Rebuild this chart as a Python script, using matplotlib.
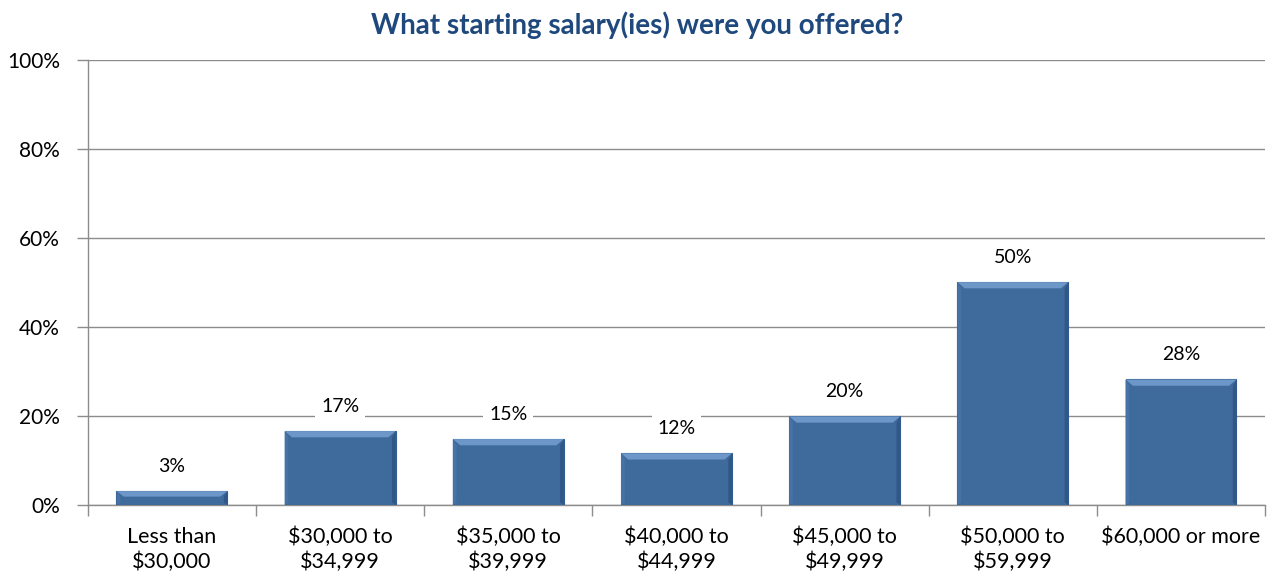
import matplotlib
matplotlib.use("Agg")
import matplotlib.pyplot as plt
from matplotlib.patches import Polygon

plt.rcParams["font.family"] = ["Lato", "DejaVu Sans"]
plt.rcParams["text.parse_math"] = False

title = "What starting salary(ies) were you offered?"
cats = ["Less than\n$30,000", "$30,000 to\n$34,999", "$35,000 to\n$39,999",
        "$40,000 to\n$44,999", "$45,000 to\n$49,999", "$50,000 to\n$59,999",
        "$60,000 or more"]
vals = [3.1, 16.6, 14.8, 11.6, 19.9, 50.1, 28.2]
yticks = [0, 20, 40, 60, 80, 100]

BAR = "#3E6A9C"
GRID = "#8C8C8C"

fig = plt.figure(figsize=(12.74, 5.79), dpi=100)
ax = fig.add_axes([0.069, 0.128, 0.924, 0.768])

x = list(range(len(cats)))
bars = ax.bar(x, vals, width=0.66, color=BAR, edgecolor="#335C8F", linewidth=0.8, zorder=3)

# bevel look: light top, slightly darker sides
bx, by = 0.022, 1.4
for b in bars:
    x0, w, h = b.get_x(), b.get_width(), b.get_height()
    byy = min(by, h / 2.5)
    top = [(x0, h), (x0 + w, h), (x0 + w - bx * 2, h - byy), (x0 + bx * 2, h - byy)]
    left = [(x0, 0), (x0, h), (x0 + bx, h - byy), (x0 + bx, byy * 0.4)]
    right = [(x0 + w, 0), (x0 + w, h), (x0 + w - bx, h - byy), (x0 + w - bx, byy * 0.4)]
    ax.add_patch(Polygon(top, closed=True, color="#6E97C9", lw=0, zorder=4))
    ax.add_patch(Polygon(left, closed=True, color="#4772A6", lw=0, zorder=4))
    ax.add_patch(Polygon(right, closed=True, color="#30578A", lw=0, zorder=4))

for xi, v in zip(x, vals):
    ax.annotate(f"{v:.0f}%", (xi, v), xytext=(0, 25), textcoords="offset pixels",
                ha="center", va="center", fontsize=14,
                bbox=dict(boxstyle="square,pad=0.3", fc="white", ec="none"), zorder=5)

ax.set_xlim(-0.5, len(cats) - 0.5)
ax.set_ylim(0, 100)
ax.set_yticks(yticks)
ax.set_yticklabels([f"{t}%" for t in yticks], fontsize=15)
ax.set_xticks(x)
ax.set_xticklabels(cats, fontsize=15.5, linespacing=1.25, va="top")
ax.set_xticks([i - 0.5 for i in range(len(cats) + 1)], minor=True)
ax.tick_params(axis="x", which="major", length=0, pad=16)
ax.tick_params(axis="x", which="minor", length=8, color=GRID, width=1)
ax.tick_params(axis="y", length=8, color=GRID, width=1, pad=12)

ax.grid(axis="y", color=GRID, lw=1, zorder=0)
ax.set_axisbelow(True)
for s in ("top", "right"):
    ax.spines[s].set_visible(False)
for s in ("left", "bottom"):
    ax.spines[s].set_color(GRID)
    ax.spines[s].set_linewidth(1)

fig.suptitle(title, x=0.5, y=0.98, fontsize=20, fontweight="bold", color="#1F497D", va="top")

fig.savefig("out.png", dpi=100)
